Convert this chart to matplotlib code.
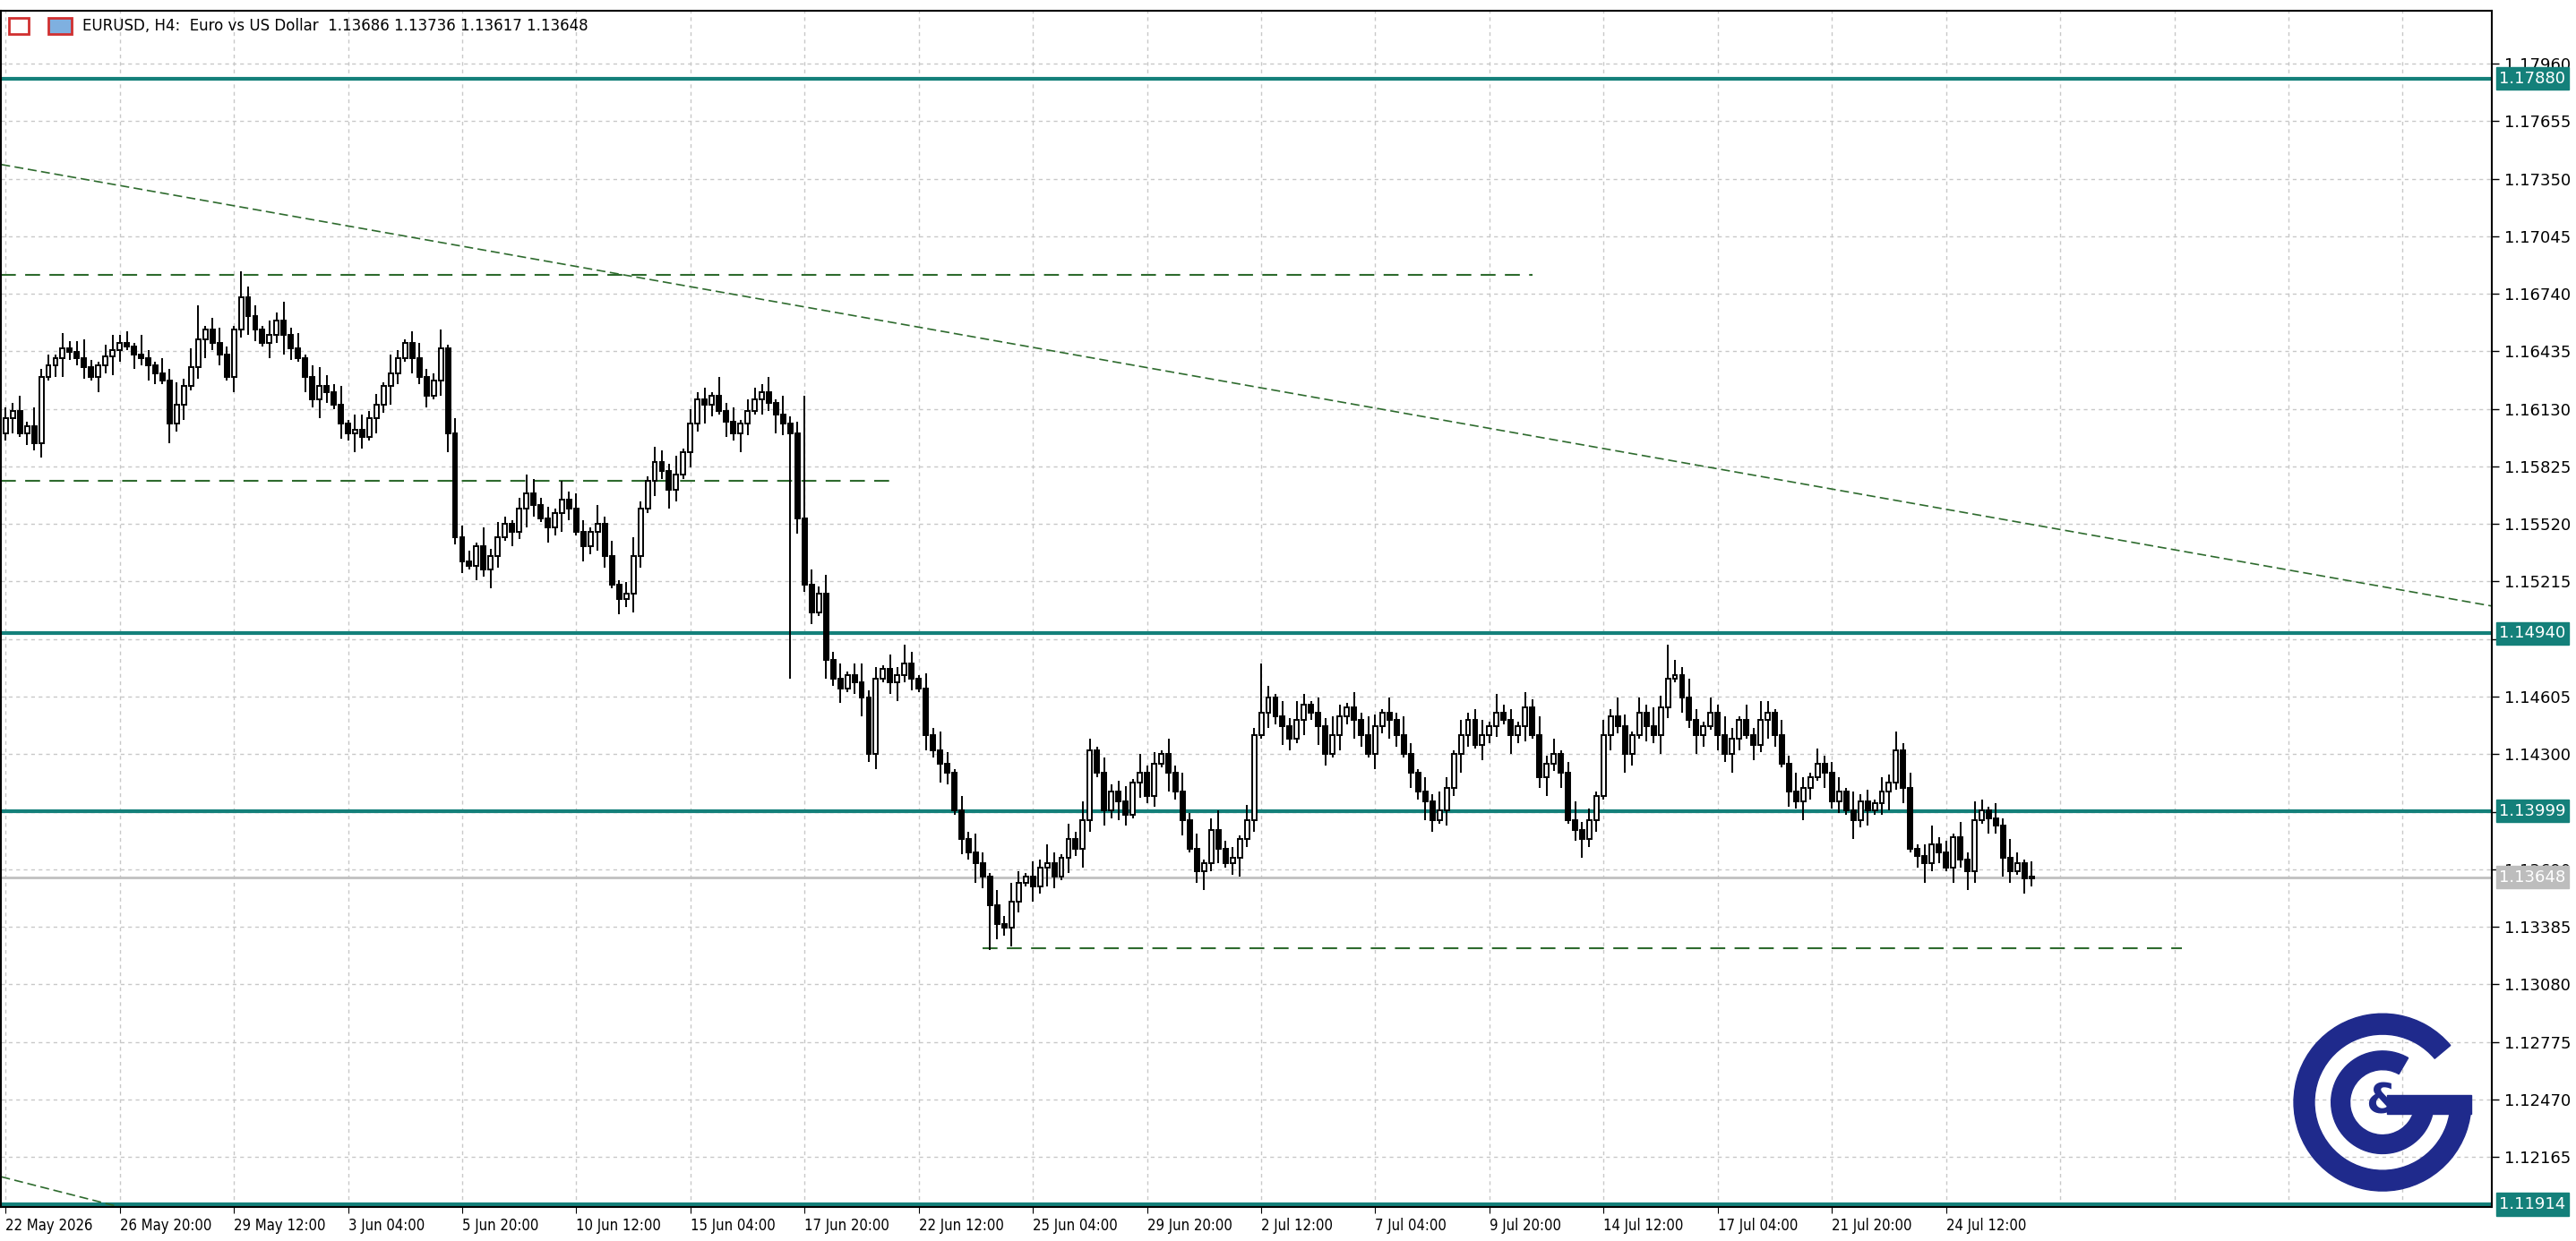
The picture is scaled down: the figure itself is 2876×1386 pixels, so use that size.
import matplotlib
matplotlib.use("Agg")
import matplotlib.pyplot as plt
from matplotlib.patches import Rectangle, Wedge
import numpy as np

# closes in pips above 1.1000
closes_pips = [
 608,612,600,604,595,
 630,636,640,645,643,640,635,630,636,641,644,648,646,642,640,636,632,628,
 605,615,625,635,
 650,655,648,642,630,655,672,662,655,648,652,660,
 652,645,640,630,618,625,622,615,605,600,602,598,608,615,625,632,640,
 648,640,630,620,628,645,
 600,545,532,530,540,528,
 535,545,552,548,560,568,562,555,550,558,565,560,548,540,
 548,552,535,520,512,515,
 535,560,575,585,580,570,578,590,605,618,
 615,620,612,606,600,605,612,618,622,616,610,605,600,
 555,520,505,515,
 480,470,465,472,468,460,
 430,
 470,475,468,472,478,470,465,
 440,432,425,420,400,
 385,378,372,365,350,340,
 338,352,362,365,360,370,372,365,375,385,380,395,
 432,420,400,410,405,398,415,420,408,
 425,430,420,410,395,380,368,372,390,
 380,372,375,385,395,440,452,
 460,450,445,438,448,456,452,445,430,440,450,455,448,440,430,445,452,448,440,430,420,
 410,405,395,400,412,
 430,440,448,435,440,445,452,448,440,445,455,440,418,425,
 430,420,395,390,385,395,408,440,
 450,445,430,440,452,445,440,455,470,
 472,460,448,440,445,452,440,430,
 438,448,440,435,448,452,440,425,410,
 405,412,418,425,420,405,410,400,395,405,400,404,410,415,432,
 412,380,376,372,382,378,370,386,374,368,
 395,400,396,392,375,368,372,364,365,
]
first_open_pips = 600
upper_wick = ("32415231423521342315214362591342153314252413532514"
              "42315213422514331524213542315243152413521432514231"
              "52413324152314252413523142531425314253142531425314"
              "25314234152314252413523142531425314253142531425314"
              "25314234152314252413523142531425314253142531425314"
              "25314234152314252413523142531425314")
lower_wick = ("24132413522314253142431524135231425314253142531425"
              "31425314231452314253142531425314253142531425314253"
              "14253142531423152413524135231425314253142531425314"
              "25314253142315241352413523142531425314253142531425"
              "31425314231524135241352314253142531425314253142531"
              "42531423152413524135231425314253142")
wick_overrides = {33: 686, 110: 470, 112: 620, 138: 326, 176: 478, 233: 488}

last_close = 1.13648
h_levels = [1.17880, 1.14940, 1.13999, 1.11914]
yticks = [1.17960, 1.17655, 1.17350, 1.17045, 1.16740, 1.16435, 1.16130, 1.15825,
          1.15520, 1.15215, 1.14910, 1.14605, 1.14300, 1.13995, 1.13690, 1.13385,
          1.13080, 1.12775, 1.12470, 1.12165]
xlabels = ["22 May 2026", "26 May 20:00", "29 May 12:00", "3 Jun 04:00", "5 Jun 20:00",
           "10 Jun 12:00", "15 Jun 04:00", "17 Jun 20:00", "22 Jun 12:00", "25 Jun 04:00",
           "29 Jun 20:00", "2 Jul 12:00", "7 Jul 04:00", "9 Jul 20:00", "14 Jul 12:00",
           "17 Jul 04:00", "21 Jul 20:00", "24 Jul 12:00"]

n = len(closes_pips)
c = 1.1 + np.array(closes_pips) / 10000
o = np.concatenate([[1.1 + first_open_pips / 10000], c[:-1]])
uw = np.array([int(d) for d in upper_wick[:n]]) * 0.0002
lw = np.array([int(d) for d in lower_wick[:n]]) * 0.0002
hi = np.maximum(o, c) + uw
lo = np.minimum(o, c) - lw
for i, v in wick_overrides.items():
    p = 1.1 + v / 10000
    if p > max(o[i], c[i]): hi[i] = p
    else: lo[i] = p

W, H = 2876, 1386
fig = plt.figure(figsize=(W/100, H/100), dpi=100)
ax = fig.add_axes([0.0005, 1 - 1348/H, 2782/W - 0.0005, (1348 - 12)/H])
ax.set_ylim(1.11900, 1.18240)
ax.set_xlim(-0.6, 348.5)

for t in yticks:
    ax.axhline(t, color="#c8c8c8", lw=1, ls=(0, (3, 3)), zorder=0)
for k in range(0, 350, 16):
    ax.axvline(k, color="#c8c8c8", lw=1, ls=(0, (3, 3)), zorder=0)

x = np.arange(n)
bw = 0.62
for i in range(n):
    ax.vlines(x[i], lo[i], hi[i], color="black", lw=1.4, zorder=3)
    bottom = min(o[i], c[i]); h = max(abs(c[i] - o[i]), 0.00004)
    fc = "white" if c[i] >= o[i] else "black"
    ax.add_patch(Rectangle((x[i] - bw/2, bottom), bw, h, facecolor=fc, edgecolor="black", lw=1.4, zorder=4))

teal = "#14807a"
for lv in h_levels:
    ax.axhline(lv, color=teal, lw=3, zorder=2)
ax.axhline(last_close, color="#c0c0c0", lw=2, zorder=1)

dg = "#2e6b2e"
ax.plot([-0.6, 214], [1.16840, 1.16840], color=dg, lw=1.5, ls=(0, (8, 5)), zorder=2)
ax.plot([-0.6, 124], [1.15750, 1.15750], color=dg, lw=1.5, ls=(0, (8, 5)), zorder=2)
ax.plot([137, 305], [1.13270, 1.13270], color=dg, lw=1.5, ls=(0, (8, 5)), zorder=2)
ax.plot([-0.6, 348.5], [1.17425, 1.15085], color=dg, lw=1.2, ls=(0, (6, 3)), zorder=2)
ax.plot([-0.6, 16], [1.12060, 1.11900], color=dg, lw=1.2, ls=(0, (6, 3)), zorder=2)

ax.yaxis.tick_right()
ax.set_yticks(yticks)
ax.set_yticklabels([f"{t:.5f}" for t in yticks], fontsize=13)
ax.tick_params(axis="y", length=6, width=1, pad=4, direction="out")
for lv in h_levels:
    ax.text(1.003, lv, f"{lv:.5f}", transform=ax.get_yaxis_transform(), fontsize=13,
            color="white", va="center", ha="left", zorder=10,
            bbox=dict(boxstyle="square,pad=0.2", fc=teal, ec=teal), clip_on=False)
ax.text(1.003, last_close, f"{last_close:.5f}", transform=ax.get_yaxis_transform(), fontsize=13,
        color="white", va="center", ha="left", zorder=10,
        bbox=dict(boxstyle="square,pad=0.2", fc="#bdbdbd", ec="#bdbdbd"), clip_on=False)

ax.set_xticks(np.arange(len(xlabels)) * 16)
ax.set_xticklabels(xlabels, fontsize=12, fontstretch="condensed", ha="left")
ax.tick_params(axis="x", length=5, pad=4)
for s in ax.spines.values():
    s.set_color("black"); s.set_linewidth(1.5)

fig.text(92/W, 1 - 29/H, "EURUSD, H4:  Euro vs US Dollar  1.13686 1.13736 1.13617 1.13648",
         fontsize=12, va="center", ha="left")
fig.patches.append(Rectangle((10/W, 1 - 38/H), 22/W, 18/H, transform=fig.transFigure,
                             fc="white", ec="#d03030", lw=2))
fig.patches.append(Rectangle((54/W, 1 - 38/H), 26/W, 18/H, transform=fig.transFigure,
                             fc="#7fb0e0", ec="#d03030", lw=2))

logo_ax = fig.add_axes([2555/W, 1 - 1370/H + 0.01, 210/W, 250/H])
logo_ax.set_xlim(-1, 1); logo_ax.set_ylim(-1.2, 1.2); logo_ax.axis("off")
logo_ax.set_aspect("equal")
blue = "#1f2a8c"
logo_ax.add_patch(Wedge((0, 0), 0.95, 40, 360, width=0.22, color=blue))
logo_ax.add_patch(Wedge((0, 0), 0.55, 60, 360, width=0.2, color=blue))
logo_ax.add_patch(Rectangle((0.05, -0.12), 0.9, 0.2, color=blue))
logo_ax.text(0.02, 0.0, "&", fontsize=34, color=blue, ha="center", va="center", weight="bold")

fig.savefig("out.png", dpi=100, facecolor="white")
